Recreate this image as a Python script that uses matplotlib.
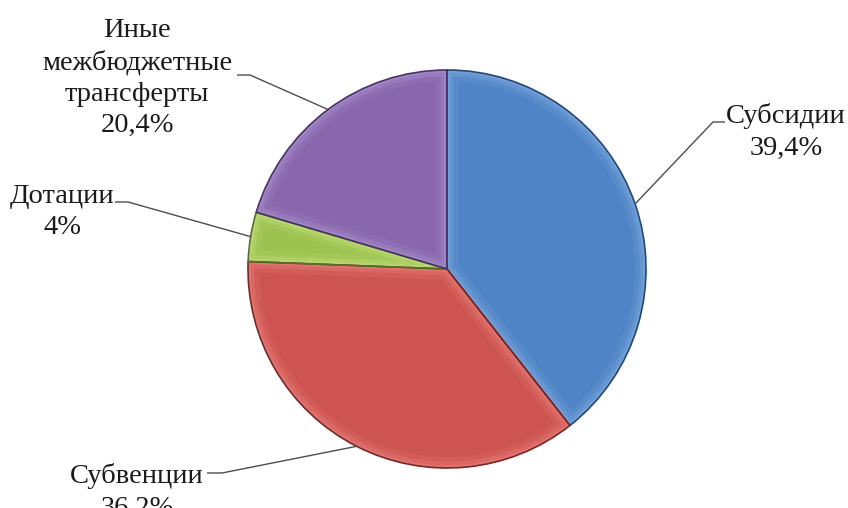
import numpy as np
import matplotlib.pyplot as plt
from matplotlib.patches import Wedge

# data
labels = ["Субсидии", "Субвенции", "Дотации", "Иные\nмежбюджетные\nтрансферты"]
shares = [39.4, 36.2, 4.0, 20.4]
pct_labels = ["39,4%", "36,2%", "4%", "20,4%"]
explode = [0.03, 0, 0, 0]

colors = ["#4f85c6", "#cd5451", "#9cc24f", "#8867ac"]
light = ["#8db4e6", "#f08a86", "#cde88a", "#b79bd6"]
dark = ["#27486f", "#7a2725", "#55702a", "#47356a"]

# layout in pixels (y from top): text centre, start of the leader near the text, elbow
text_xy = [(786, 132), (137, 492), (62, 212), (137, 78)]
line_start = [(725, 122), (207, 473), (115, 202), (237, 75)]
line_elbow = [(713, 122), (222, 473), (128, 202), (250, 75)]

W, H = 848, 508
fig = plt.figure(figsize=(W / 100, H / 100), dpi=100)
ax = fig.add_axes([0, 0, 1, 1])

wedges, _ = ax.pie(shares, colors=colors, startangle=90, counterclock=False,
                   explode=explode, center=(447, H - 269), radius=199,
                   wedgeprops=dict(linewidth=0))

ax.set_xlim(0, W)
ax.set_ylim(0, H)
ax.set_aspect("equal")
ax.axis("off")

for i, w in enumerate(wedges):
    # soft inner bevel: wide light stroke clipped to the wedge
    for lw, a in [(16, 0.15), (9, 0.25), (4, 0.35)]:
        hl = Wedge(w.center, w.r, w.theta1, w.theta2, facecolor="none",
                   edgecolor=light[i], linewidth=lw, alpha=a, zorder=2)
        ax.add_patch(hl)
        hl.set_clip_path(w)
    rim = Wedge(w.center, w.r, w.theta1, w.theta2, facecolor="none",
                edgecolor=dark[i], linewidth=1.2, zorder=3)
    ax.add_patch(rim)

    mid = np.deg2rad((w.theta1 + w.theta2) / 2)
    ax_x = w.center[0] + w.r * np.cos(mid)
    ax_y = w.center[1] + w.r * np.sin(mid)
    sx, sy = line_start[i]
    ex, ey = line_elbow[i]
    ax.plot([sx, ex, ax_x], [H - sy, H - ey, ax_y], color="#4d4d4d",
            linewidth=1.0, zorder=4, solid_capstyle="butt")

    tx, ty = text_xy[i]
    ax.text(tx, H - ty, labels[i] + "\n" + pct_labels[i], ha="center",
            va="center", fontsize=20.5, family="Liberation Serif",
            linespacing=1.35, color="#1a1a1a", zorder=5)

fig.savefig("out.png", dpi=100)
